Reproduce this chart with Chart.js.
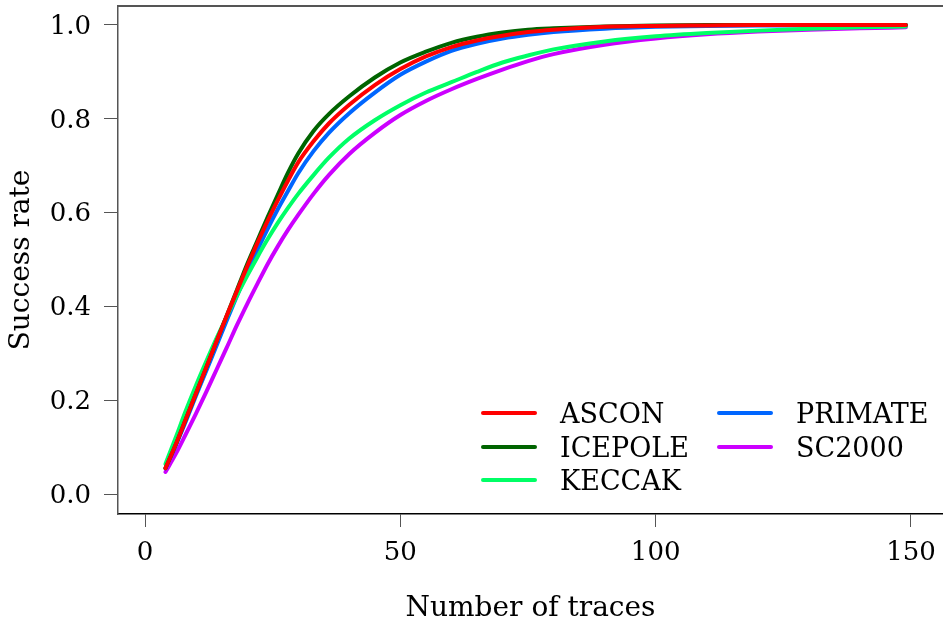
<!DOCTYPE html>
<html><head><meta charset="utf-8">
<script src="https://cdn.jsdelivr.net/npm/chart.js@4"></script>
<style>html,body{margin:0;padding:0;background:#fff;overflow:hidden;}</style>
</head><body>
<canvas id="c" width="943" height="626"></canvas>
<script>
const traces = [4,6,8,10,12,14,16,18,20,22,24,26,28,30,33,36,40,45,50,55,60,65,70,75,80,90,100,110,120,130,140,149];
const ascon   = [.055,.105,.16,.215,.27,.325,.38,.433,.485,.535,.582,.626,.668,.707,.752,.79,.83,.872,.906,.933,.953,.967,.977,.985,.99,.996,.998,.999,1,1,1,1];
const icepole = [.055,.105,.16,.215,.27,.325,.38,.435,.49,.54,.59,.638,.685,.726,.774,.81,.848,.888,.92,.943,.962,.975,.984,.99,.993,.997,.999,1,1,1,1,1];
const keccak  = [.064,.12,.178,.232,.283,.332,.378,.423,.465,.505,.543,.578,.61,.64,.68,.717,.758,.797,.829,.856,.878,.9,.92,.935,.948,.965,.976,.983,.988,.992,.995,.997];
const primate = [.055,.103,.155,.21,.263,.316,.37,.422,.473,.52,.565,.607,.646,.684,.731,.77,.812,.856,.894,.922,.945,.96,.971,.979,.985,.992,.996,.998,.999,.999,1,1];
const sc2000  = [.047,.085,.128,.172,.218,.265,.312,.36,.405,.448,.49,.528,.563,.595,.64,.68,.725,.77,.808,.838,.863,.885,.905,.923,.938,.958,.971,.98,.986,.99,.993,.995];
const seriesNames = ['ASCON','ICEPOLE','KECCAK','PRIMATE','SC2000'];
const seriesValues = [ascon, icepole, keccak, primate, sc2000];
const seriesColors = ['#FF0000','#006400','#00FF66','#0066FF','#CC00FF'];
const xTicks = [0,50,100,150];
const yTicks = [0,0.2,0.4,0.6,0.8,1.0];
const xTitle = 'Number of traces';
const yTitle = 'Success rate';

const FONT = 'DejaVu Serif';

const datasets = seriesNames.map((name,i)=>({
  label: name,
  data: traces.map((t,j)=>({x:t, y:seriesValues[i][j]})),
  borderColor: seriesColors[i],
  backgroundColor: seriesColors[i],
  borderWidth: 4,
  pointRadius: 0,
  fill: false,
  cubicInterpolationMode: 'monotone',
  borderCapStyle: 'round'
}));

const frame = {
  id: 'frame',
  afterDraw(chart){
    const {ctx, chartArea:a} = chart;
    ctx.save();
    ctx.strokeStyle = '#555';
    ctx.lineWidth = 2;
    ctx.beginPath();
    ctx.moveTo(a.left, a.top);
    ctx.lineTo(a.right, a.top);
    ctx.stroke();
    // legend
    const cols = [{lx:483, tx:560},{lx:719, tx:796}];
    const rowsY = [413, 447, 480];
    ctx.font = '27px "' + FONT + '"';
    ctx.textBaseline = 'middle';
    ctx.textAlign = 'left';
    chart.data.datasets.forEach((ds,i)=>{
      const c = cols[Math.floor(i/3)];
      const y = rowsY[i%3];
      ctx.strokeStyle = ds.borderColor;
      ctx.lineWidth = 4;
      ctx.lineCap = 'round';
      ctx.beginPath();
      ctx.moveTo(c.lx, y);
      ctx.lineTo(c.lx+52, y);
      ctx.stroke();
      ctx.fillStyle = '#000';
      ctx.fillText(ds.label, c.tx, y+3);
    });
    ctx.restore();
  }
};

new Chart(document.getElementById('c'), {
  type: 'line',
  data: { datasets },
  options: {
    responsive: false,
    animation: false,
    devicePixelRatio: 1,
    layout: { padding: { top: 6, left: 0, right: 0, bottom: 0 } },
    plugins: { legend: { display: false }, tooltip: { enabled: false } },
    scales: {
      x: {
        type: 'linear',
        min: -5.29, max: 156.27,
        afterBuildTicks: s => { s.ticks = xTicks.map(v=>({value:v})); },
        afterFit: s => { s.height = 112; s.paddingLeft = 0; s.paddingRight = 0; },
        ticks: { font: { family: FONT, size: 26 }, color: '#000', padding: 11, maxRotation: 0, autoSkip: false },
        grid: { display: true, drawOnChartArea: false, drawTicks: true, tickLength: 13, color: '#555', lineWidth: 1 },
        border: { display: true, color: '#000', width: 1.5 },
        title: { display: true, text: xTitle, font: { family: FONT, size: 28 }, color: '#000', padding: { top: 0, bottom: 0 } }
      },
      y: {
        type: 'linear',
        min: -0.0426, max: 1.0405,
        afterBuildTicks: s => { s.ticks = yTicks.map(v=>({value:v})); },
        afterFit: s => { s.width = 118; s.paddingTop = 0; s.paddingBottom = 0; },
        ticks: { font: { family: FONT, size: 26 }, color: '#000', padding: 13, labelOffset: 2, callback: v => Number(v).toFixed(1), autoSkip: false },
        grid: { display: true, drawOnChartArea: false, drawTicks: true, tickLength: 14, color: '#555', lineWidth: 1 },
        border: { display: true, color: '#555', width: 1.5 },
        title: { display: true, text: yTitle, font: { family: FONT, size: 28 }, color: '#000', padding: { top: 5, bottom: 0 } }
      }
    }
  },
  plugins: [frame]
});
</script>
</body></html>
